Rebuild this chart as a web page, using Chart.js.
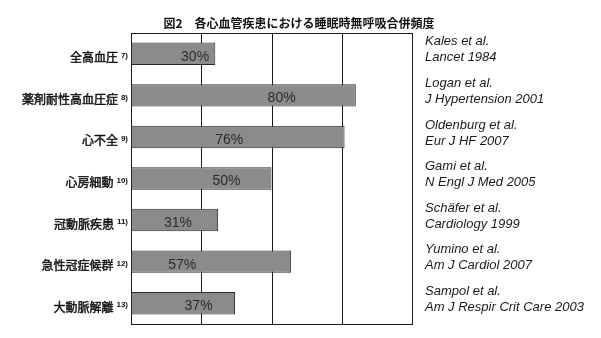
<!DOCTYPE html>
<html lang="ja">
<head>
<meta charset="utf-8">
<title>図2 各心血管疾患における睡眠時無呼吸合併頻度</title>
<script src="https://cdn.jsdelivr.net/npm/chart.js@4"></script>
<style>
  html, body { margin: 0; padding: 0; background: #fff; }
  #chart { display: block; }
</style>
</head>
<body>
<canvas id="chart" width="601" height="338"></canvas>
<script>
// chart data
const title = '図2\u3000各心血管疾患における睡眠時無呼吸合併頻度';
const categories = ['全高血圧', '薬剤耐性高血圧症', '心不全', '心房細動', '冠動脈疾患', '急性冠症候群', '大動脈解離'];
const refNumbers = ['7)', '8)', '9)', '10)', '11)', '12)', '13)'];
const values = [30, 80, 76, 50, 31, 57, 37];
const studies = ['Kales et al.', 'Logan et al.', 'Oldenburg et al.', 'Gami et al.', 'Schäfer et al.', 'Yumino et al.', 'Sampol et al.'];
const journals = ['Lancet 1984', 'J Hypertension 2001', 'Eur J HF 2007', 'N Engl J Med 2005', 'Cardiology 1999', 'Am J Cardiol 2007', 'Am J Respir Crit Care 2003'];
const gridValues = [25, 50, 75];

const JP_FONT = '"Noto Sans CJK JP", "Noto Sans", sans-serif';
const LATIN_FONT = '"Liberation Sans", Arial, sans-serif';

// where the % text sits along each bar (fraction of bar length)
const labelSpots = [0.76, 0.67, 0.46, 0.68, 0.54, 0.32, 0.65];

const framePlugin = {
  id: 'frame',
  beforeDatasetsDraw(chart) {
    const { ctx, chartArea } = chart;
    const x = chart.scales.x;
    ctx.save();
    ctx.strokeStyle = '#1a1a1a';
    ctx.lineWidth = 1;
    ctx.beginPath();
    gridValues.forEach(v => {
      const px = Math.round(x.getPixelForValue(v)) + 0.5;
      ctx.moveTo(px, chartArea.top);
      ctx.lineTo(px, chartArea.bottom);
    });
    ctx.stroke();
    ctx.strokeRect(chartArea.left + 0.5, chartArea.top + 0.5,
      chartArea.right - chartArea.left, chartArea.bottom - chartArea.top);
    ctx.restore();
  },
  afterDatasetsDraw(chart) {
    const { ctx, chartArea } = chart;
    const x = chart.scales.x;
    const y = chart.scales.y;
    ctx.save();

    // title
    ctx.fillStyle = '#111';
    ctx.font = 'bold 12px ' + JP_FONT;
    ctx.textAlign = 'center';
    ctx.textBaseline = 'middle';
    ctx.fillText(title, 299, 23);

    categories.forEach((cat, i) => {
      const cy = y.getPixelForValue(i);

      // reference number (superscript)
      ctx.textAlign = 'right';
      ctx.textBaseline = 'middle';
      ctx.font = 'bold 8px ' + LATIN_FONT;
      ctx.fillStyle = '#111';
      const supRight = chartArea.left - 3;
      ctx.fillText(refNumbers[i], supRight, cy + 2);
      const supW = ctx.measureText(refNumbers[i]).width;

      // category label, with a thin stroke to get a medium weight
      ctx.font = '12px ' + JP_FONT;
      ctx.strokeStyle = '#111';
      ctx.lineWidth = 0.45;
      ctx.fillText(cat, supRight - supW - 3, cy + 4);
      ctx.strokeText(cat, supRight - supW - 3, cy + 4);

      // value label inside bar
      const x0 = x.getPixelForValue(0);
      const x1 = x.getPixelForValue(values[i]);
      ctx.textAlign = 'center';
      ctx.font = '14px ' + LATIN_FONT;
      ctx.fillStyle = '#2b2b2b';
      ctx.fillText(values[i] + '%', x0 + (x1 - x0) * labelSpots[i], cy + 3);

      // study reference
      ctx.textAlign = 'left';
      ctx.font = 'italic 13px ' + LATIN_FONT;
      ctx.fillStyle = '#1a1a1a';
      ctx.fillText(studies[i], 425, cy - 12);
      ctx.fillText(journals[i], 425, cy + 4);
    });
    ctx.restore();
  }
};

new Chart(document.getElementById('chart'), {
  type: 'bar',
  data: {
    labels: categories,
    datasets: [{
      data: values,
      backgroundColor: '#8b8b8b',
      borderColor: '#2a2a2a',
      borderWidth: 1,
      borderSkipped: false,
      barPercentage: 0.54,
      categoryPercentage: 1
    }]
  },
  options: {
    indexAxis: 'y',
    responsive: false,
    animation: false,
    devicePixelRatio: 1,
    layout: { padding: { left: 131, right: 189, top: 33, bottom: 14 } },
    scales: {
      x: { display: false, min: 0, max: 100 },
      y: { display: false }
    },
    plugins: {
      legend: { display: false },
      tooltip: { enabled: false }
    }
  },
  plugins: [framePlugin]
});
</script>
</body>
</html>
